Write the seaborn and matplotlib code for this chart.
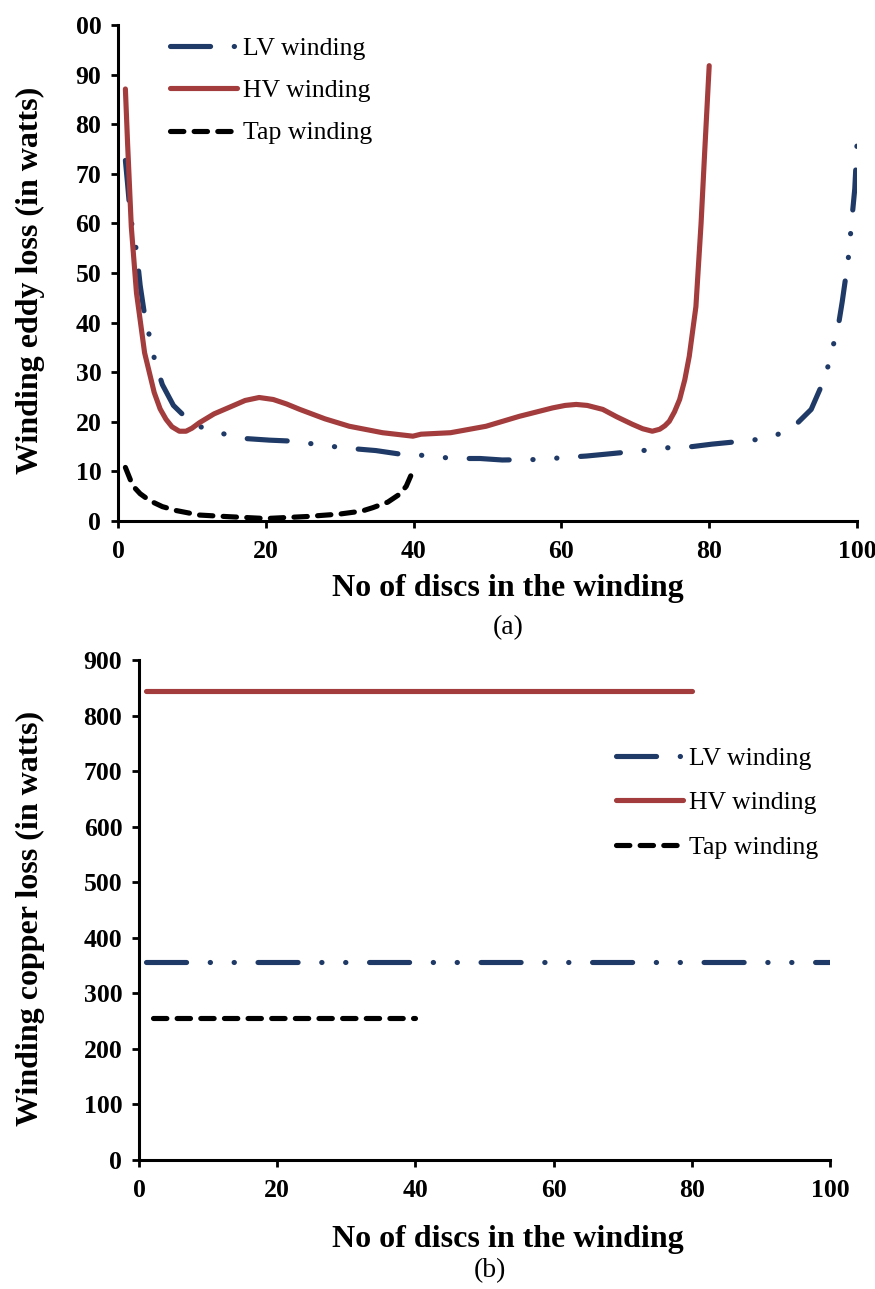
import matplotlib
matplotlib.use("Agg")
import matplotlib.pyplot as plt
import seaborn as sns
import pandas as pd

# ---- (a) eddy loss per disc ----
lv_eddy_x = [1, 1.3, 1.6, 2, 2.5, 3, 3.5, 4, 5, 6, 7.5, 9.7, 12, 14.5, 17.5, 20.5, 23.6,
             28.6, 31.7, 34.9, 38.1, 40.8, 43, 46, 49, 52, 57, 60.4, 63.4, 66.2, 71.7,
             74.6, 77.7, 80.4, 85.9, 88.8, 91.5, 93.8, 95.7, 96.7, 97.5, 98, 98.8,
             99.1, 99.4, 99.7, 100]
lv_eddy_y = [72.7, 67.9, 62.7, 58.5, 54.5, 47.5, 42.5, 39.0, 32.2, 27.5, 23.3, 20.1, 18.4,
             17.5, 16.6, 16.3, 16.1, 15.1, 14.6, 14.2, 13.5, 13.3, 12.9, 12.6, 12.6, 12.3,
             12.4, 12.8, 13.1, 13.5, 14.3, 14.8, 15.0, 15.5, 16.3, 17.1, 19.1, 22.5, 29.0,
             34.9, 39.6, 44.2, 52.6, 57.4, 62.3, 67.0, 76.0]

hv_eddy_x = [1, 1.3, 1.8, 2.5, 3.6, 4.9, 5.7, 6.5, 7.3, 8.3, 9.2, 10, 11, 13, 15.5, 17.2,
             19.1, 21, 22.8, 24.6, 28, 31.3, 35.8, 39.9, 41, 45, 49.8, 54.3, 58.8, 60.5,
             62, 63.5, 65.6, 67.5, 69.6, 71, 72.3, 73.3, 74, 74.6, 75.3, 76, 76.7, 77.3,
             78.2, 78.9, 79.4, 80]
hv_eddy_y = [87.1, 76.0, 59.3, 46.0, 33.9, 25.9, 22.6, 20.5, 19.0, 18.1, 18.1, 18.7, 19.8,
             21.6, 23.2, 24.3, 24.9, 24.5, 23.6, 22.5, 20.6, 19.1, 17.8, 17.1, 17.5, 17.8,
             19.1, 21.1, 22.8, 23.3, 23.5, 23.3, 22.5, 21.0, 19.5, 18.6, 18.1, 18.5, 19.2,
             20.1, 22.0, 24.5, 28.5, 33.2, 43.2, 60.0, 74.7, 91.8]

tap_eddy_x = [1, 2, 3, 4.3, 6, 7.9, 11, 14.6, 20, 25.5, 30, 33, 34.5, 36.5, 38.1, 39,
              39.7, 40]
tap_eddy_y = [10.8, 7.1, 5.5, 4.1, 2.9, 2.1, 1.2, 0.9, 0.5, 0.9, 1.4, 2.0, 2.7, 3.8, 5.4,
              7.0, 9.4, 10.4]

eddy_yticks = [0, 10, 20, 30, 40, 50, 60, 70, 80, 90, 100]
eddy_yticklabels = ["0", "10", "20", "30", "40", "50", "60", "70", "80", "90", "00"]

# ---- (b) copper loss per disc ----
lv_cu_x = [1, 100]
lv_cu_y = [357, 357]
hv_cu_x = [1, 80]
hv_cu_y = [845, 845]
tap_cu_x = [2, 40]
tap_cu_y = [255, 255]

xticks = [0, 20, 40, 60, 80, 100]
cu_yticks = [0, 100, 200, 300, 400, 500, 600, 700, 800, 900]

series_names = ["LV winding", "HV winding", "Tap winding"]
colors = {"LV winding": "#1f3a66", "HV winding": "#a33c3c", "Tap winding": "#000000"}
styles = {
    "LV winding": (0, (7.8, 4.6, 0.05, 4.6, 0.05, 4.6)),
    "HV winding": "-",
    "Tap winding": (0, (2.6, 2.0)),
}

sns.set_theme(style="white")
plt.rcParams["font.family"] = ["Liberation Serif", "DejaVu Serif"]
plt.rcParams["axes.linewidth"] = 2.0
for key in ("text.color", "axes.labelcolor", "xtick.color", "ytick.color",
            "axes.edgecolor"):
    plt.rcParams[key] = "black"

fig = plt.figure(figsize=(8.75, 12.89), dpi=100)
W, H = 875, 1289


def frac_box(x0, y_top, x1, y_bot):
    return [x0 / W, 1 - y_bot / H, (x1 - x0) / W, (y_bot - y_top) / H]


ax1 = fig.add_axes(frac_box(118, 25, 857, 521))
ax2 = fig.add_axes(frac_box(139, 660, 830, 1160))


def draw(ax, data):
    for name in series_names:
        xs, ys = data[name]
        df = pd.DataFrame({"disc": xs, "loss": ys})
        sns.lineplot(data=df, x="disc", y="loss", ax=ax, color=colors[name],
                     linewidth=3.7, linestyle=styles[name], label=name,
                     sort=False, estimator=None,
                     dash_capstyle="round", solid_capstyle="round",
                     solid_joinstyle="round")


draw(ax1, {"LV winding": (lv_eddy_x, lv_eddy_y),
           "HV winding": (hv_eddy_x, hv_eddy_y),
           "Tap winding": (tap_eddy_x, tap_eddy_y)})
draw(ax2, {"LV winding": (lv_cu_x, lv_cu_y),
           "HV winding": (hv_cu_x, hv_cu_y),
           "Tap winding": (tap_cu_x, tap_cu_y)})

tick_font = dict(fontsize=18.5, fontweight="bold")
for ax in (ax1, ax2):
    ax.set_xlim(0, 100)
    ax.set_xticks(xticks)
    ax.set_xticklabels([str(t) for t in xticks], **tick_font)
    for s in ("top", "right"):
        ax.spines[s].set_visible(False)
    for s in ("left", "bottom"):
        ax.spines[s].set_color("black")
        ax.spines[s].set_linewidth(2.2)
    ax.tick_params(axis="x", direction="out", length=5, width=2,
                   colors="black", pad=9, bottom=True)
    ax.tick_params(axis="y", direction="out", length=5, width=2,
                   colors="black", pad=7, left=True)
    ax.set_facecolor("white")

ax1.set_ylim(0, 100)
ax1.set_yticks(eddy_yticks)
ax1.set_yticklabels(eddy_yticklabels, **tick_font)
ax2.set_ylim(0, 900)
ax2.set_yticks(cu_yticks)
ax2.set_yticklabels([str(t) for t in cu_yticks], **tick_font)

label_font = dict(fontsize=23, fontweight="bold")
ax1.set_xlabel("No of discs in the winding", **label_font)
ax1.set_ylabel("Winding eddy loss (in watts)", **label_font)
ax2.set_xlabel("No of discs in the winding", **label_font)
ax2.set_ylabel("Winding copper loss (in watts)", **label_font)


def place_label(ax, axis, px, py):
    inv = ax.transAxes.inverted()
    disp = fig.transFigure.transform((px / W, 1 - py / H))
    ax_xy = inv.transform(disp)
    lab = ax.xaxis if axis == "x" else ax.yaxis
    lab.set_label_coords(ax_xy[0], ax_xy[1])
    lab.label.set_verticalalignment("center")
    lab.label.set_horizontalalignment("center")


place_label(ax1, "x", 508, 588)
place_label(ax1, "y", 30, 280)
place_label(ax2, "x", 508, 1239)
place_label(ax2, "y", 30, 918)

fig.text(508 / W, 1 - 628 / H, "(a)", fontsize=20, ha="center", va="center")
fig.text(490 / W, 1 - 1271 / H, "(b)", fontsize=20, ha="center", va="center")

leg_kw = dict(frameon=False, fontsize=18.5, handlelength=2.6, handletextpad=0.25,
              borderpad=0, borderaxespad=0, loc="upper left")
ax1.legend(bbox_to_anchor=(170 / W, 1 - 37 / H), bbox_transform=fig.transFigure,
           labelspacing=0.75, **leg_kw)
ax2.legend(bbox_to_anchor=(616 / W, 1 - 747 / H), bbox_transform=fig.transFigure,
           labelspacing=0.83, **leg_kw)

fig.savefig("out.png", dpi=100, facecolor="white")
